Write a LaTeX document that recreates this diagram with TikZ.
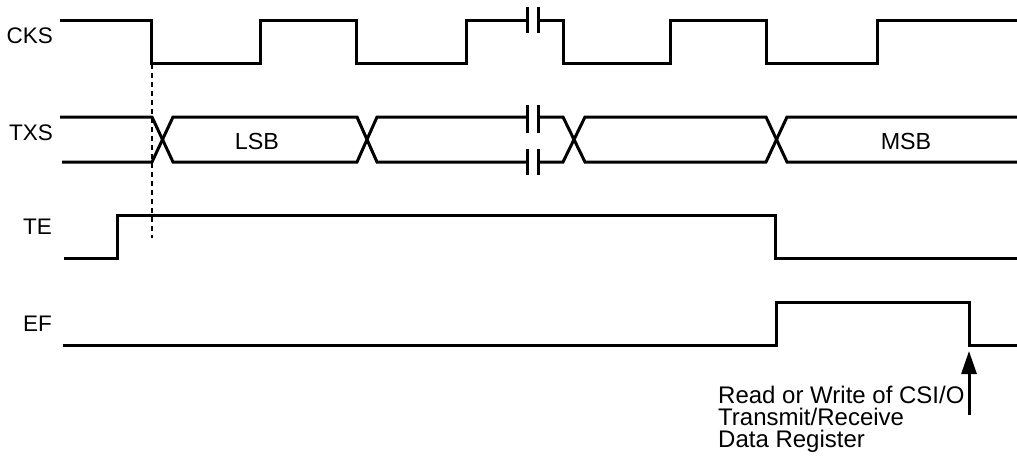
\documentclass[tikz,border=0pt]{standalone}
\usepackage{fontspec}
\setmainfont{Liberation Sans}
\usetikzlibrary{arrows.meta}
\begin{document}
\begin{tikzpicture}[x=1pt,y=-1pt,
  sig/.style={line width=3pt},
  brk/.style={line width=3pt},
  lbl/.style={font=\fontsize{22.5}{22}\selectfont, inner sep=0pt},
  bitlbl/.style={font=\fontsize{23.3}{22}\selectfont, inner sep=0pt},
  notelbl/.style={font=\fontsize{24}{22}\selectfont, inner sep=0pt},
  dashline/.style={line width=2pt, dash pattern=on 5pt off 4pt},
  ptr/.style={line width=3pt, -{Triangle[width=15pt,length=23pt]}}]
\useasboundingbox (0,0) rectangle (1017,459);
% labels
\node[lbl, anchor=base east] (cks) at (53,43) {CKS};
\node[lbl, anchor=base east] (txs) at (53,140) {TXS};
\node[lbl, anchor=base east] (te) at (52,234) {TE};
\node[lbl, anchor=base east] (ef) at (52,331) {EF};
\node[bitlbl, anchor=base] (lsb) at (257,149) {LSB};
\node[bitlbl, anchor=base] (msb) at (906,149) {MSB};
% CKS
\draw[sig] (60,20) -- (151,20) -- (151,63) -- (260,63) -- (260,20) -- (356,20) -- (356,63) -- (466,63) -- (466,20) -- (527,20);
\draw[sig] (538,20) -- (563,20) -- (563,63) -- (670,63) -- (670,20) -- (766,20) -- (766,63) -- (877,63) -- (877,20) -- (1017,20);
\draw[brk] (527,7) -- (527,33);
\draw[brk] (538,7) -- (538,33);
% TXS
\draw[sig] (60,117) -- (152,117) -- (173,162) -- (357,162) -- (377,117) -- (527,117);
\draw[sig] (62,162) -- (152,162) -- (173,117) -- (357,117) -- (377,162) -- (527,162);
\draw[sig] (538,117) -- (563,117) -- (585,162) -- (766,162) -- (787,117) -- (1017,117);
\draw[sig] (538,162) -- (563,162) -- (585,117) -- (766,117) -- (787,162) -- (1017,162);
\draw[brk] (527,105) -- (527,133);
\draw[brk] (538,105) -- (538,133);
\draw[brk] (527,149) -- (527,175);
\draw[brk] (538,149) -- (538,175);
% TE
\draw[sig] (64,258) -- (117,258) -- (117,215) -- (775,215) -- (775,258) -- (1017,258);
% EF
\draw[sig] (63,345) -- (776,345) -- (776,302) -- (969,302) -- (969,345) -- (1017,345);
% dashed reference
\coordinate (dtop) at (152,64);
\coordinate (dbot) at (152,238);
\draw[dashline] (dtop) -- (dbot);
% annotation
\node[notelbl, anchor=north west, align=left] (note) at (718,385.5) {Read or Write of CSI/O\\Transmit/Receive\\Data Register};
\coordinate (atail) at (969,415);
\coordinate (ahead) at (969,351);
\draw[ptr] (atail) -- (ahead);
\end{tikzpicture}
\end{document}
